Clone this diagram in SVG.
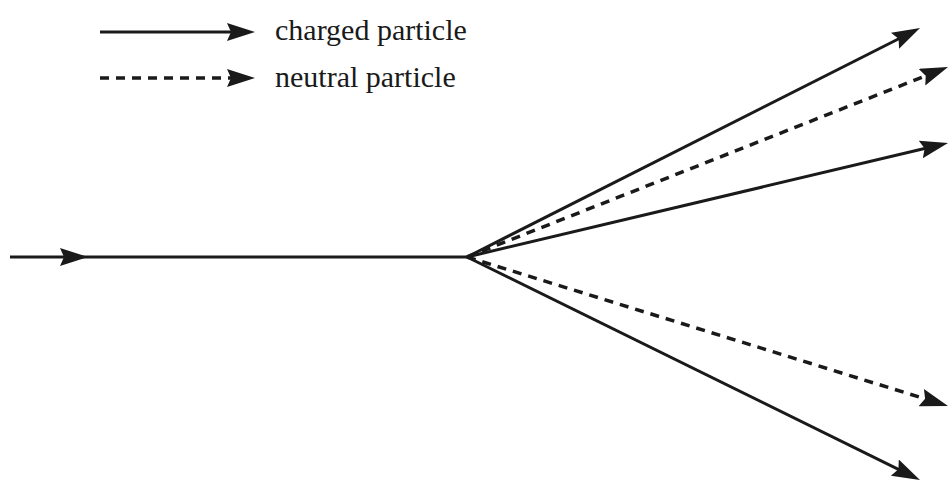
<svg xmlns="http://www.w3.org/2000/svg" width="950" height="486" viewBox="0 0 950 486">
<defs>
<marker id="ah" markerUnits="userSpaceOnUse" markerWidth="30" markerHeight="20" refX="17" refY="9" orient="auto">
<path d="M0,0 L28,9 L0,18 L4,9 z" fill="#1a1a1a"/>
</marker>
<style>
.s{stroke:#1a1a1a;stroke-width:3;fill:none}
.d{stroke:#1a1a1a;stroke-width:3.5;fill:none;stroke-dasharray:9 7}
.t{font-family:"Liberation Serif",serif;font-size:30px;fill:#1a1a1a}
</style>
</defs>
<rect width="950" height="486" fill="#fff"/>
<g id="legend">
<path class="s" d="M100,32 L244,32" marker-end="url(#ah)"/>
<text class="t" x="275" y="40">charged particle</text>
<path class="d" d="M100,78 L244,78" marker-end="url(#ah)"/>
<text class="t" x="275" y="87">neutral particle</text>
</g>
<g id="connectors">
<path class="s" d="M10,257 L77,257" marker-end="url(#ah)"/>
<path class="s" d="M77,257 L467,257"/>
<path class="s" d="M467,257 L910.2,33" marker-end="url(#ah)"/>
<path class="d" d="M467,257 L937.8,71" marker-end="url(#ah)"/>
<path class="s" d="M467,257 L937.3,145.5" marker-end="url(#ah)"/>
<path class="d" d="M467,257 L937.5,402.7" marker-end="url(#ah)"/>
<path class="s" d="M467,257 L910.1,475.1" marker-end="url(#ah)"/>
</g>
</svg>
